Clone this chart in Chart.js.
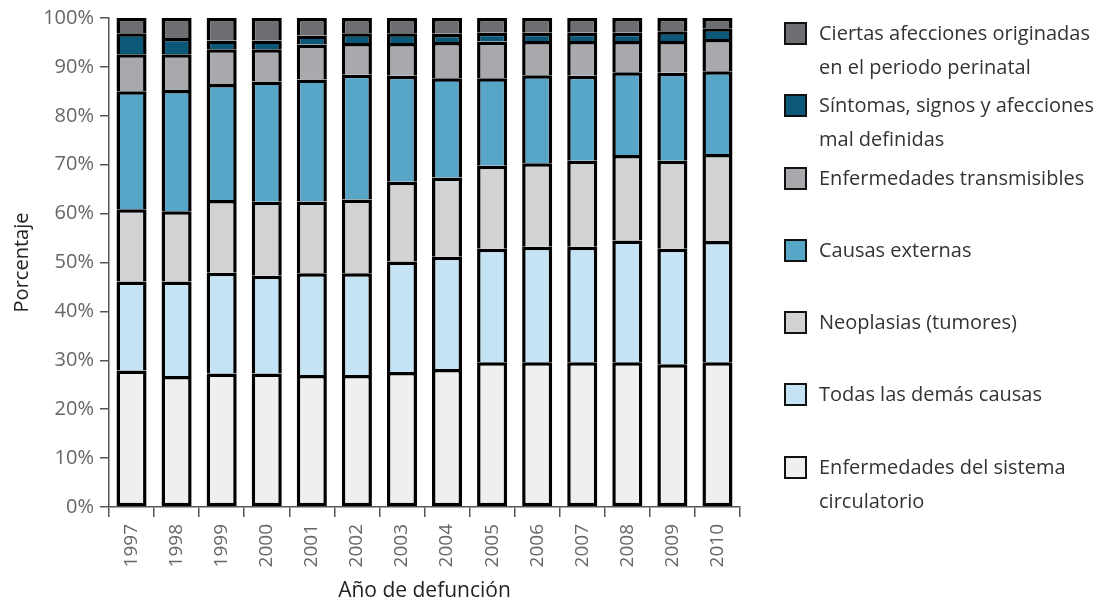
<!DOCTYPE html>
<html>
<head>
<meta charset="utf-8">
<script src="https://cdn.jsdelivr.net/npm/chart.js@4.4.0/dist/chart.umd.min.js"></script>
<style>
  body { margin: 0; background: #fff; font-family: "Open Sans", sans-serif; }
  #wrap { position: relative; width: 1106px; height: 605px; }
  #legend { position: absolute; left: 784px; top: 16px; }
  .item { display: flex; align-items: flex-start; height: 72.3px; }
  .box { width: 19px; height: 19px; border: 2px solid #111; margin-top: 6px; margin-right: 12px; flex: none; }
  .txt { font-size: 20px; line-height: 34px; color: #333; white-space: pre-line; }
</style>
</head>
<body>
<div id="wrap">
  <canvas id="myChart" width="1106" height="605"></canvas>
  <div id="legend"></div>
</div>
<script>
const years = ["1997", "1998", "1999", "2000", "2001", "2002", "2003",
  "2004", "2005", "2006", "2007", "2008", "2009", "2010"];

// percentages, bottom to top of each bar
const circulatorio = [27.9, 26.8, 27.3, 27.3, 27.0, 27.0, 27.6, 28.2, 29.6, 29.6, 29.6, 29.6, 29.2, 29.6];
const demas        = [18.2, 19.3, 20.6, 20.0, 20.8, 20.8, 22.6, 23.0, 23.2, 23.6, 23.6, 24.9, 23.6, 24.8];
const neoplasias   = [14.8, 14.4, 14.9, 15.1, 14.7, 15.1, 16.3, 16.2, 17.0, 17.1, 17.6, 17.5, 18.0, 17.8];
const externas     = [24.1, 24.8, 23.7, 24.6, 24.9, 25.5, 21.7, 20.3, 17.9, 18.0, 17.4, 16.9, 18.0, 16.9];
const transmisib   = [7.6, 7.3, 7.1, 6.6, 7.2, 6.5, 6.7, 7.4, 7.5, 7.0, 7.1, 6.4, 6.5, 6.6];
const sintomas     = [4.3, 3.3, 1.8, 1.8, 1.8, 2.0, 2.0, 1.7, 1.8, 1.7, 1.7, 1.7, 2.0, 2.2];
const perinatal    = [3.1, 4.1, 4.6, 4.6, 3.6, 3.1, 3.1, 3.2, 3.0, 3.0, 3.0, 3.0, 2.7, 2.1];

const names = [
  "Enfermedades del sistema\ncirculatorio",
  "Todas las demás causas",
  "Neoplasias (tumores)",
  "Causas externas",
  "Enfermedades transmisibles",
  "Síntomas, signos y afecciones\nmal definidas",
  "Ciertas afecciones originadas\nen el periodo perinatal"
];
const values = [circulatorio, demas, neoplasias, externas, transmisib, sintomas, perinatal];
const colors = ["#eeefef", "#c4e3f4", "#d1d2d4", "#57a5c7", "#a7a9ac", "#0b5878", "#6d6e71"];

const datasets = values.map((v, i) => ({
  label: names[i].replace("\n", " "),
  data: v,
  backgroundColor: colors[i],
  borderColor: "#000",
  borderWidth: 3.5,
  borderSkipped: i === 0 ? false : "start",
  barPercentage: 0.667,
  categoryPercentage: 1
}));

const ctx = document.getElementById("myChart");

new Chart(ctx, {
  type: "bar",
  data: { labels: years, datasets: datasets },
  options: {
    responsive: false,
    animation: false,
    layout: { padding: { top: 18, right: 366, left: 0, bottom: 0 } },
    plugins: { legend: { display: false }, tooltip: { enabled: false } },
    scales: {
      x: {
        stacked: true,
        afterFit: (s) => { s.height = 98; },
        grid: { offset: true, drawOnChartArea: false, tickLength: 10, color: "#555", lineWidth: 1.5 },
        border: { color: "#555", width: 1.5 },
        ticks: { minRotation: 90, maxRotation: 90, color: "#666", font: { family: "Open Sans", size: 19 }, padding: 7 },
        title: { display: true, text: "Año de defunción", color: "#222",
          font: { family: "Open Sans", size: 21 }, padding: { top: 0, bottom: 1 } }
      },
      y: {
        stacked: true,
        min: 0,
        max: 100,
        afterFit: (s) => { s.width = 109; },
        grid: { drawOnChartArea: false, tickLength: 9, color: "#555", lineWidth: 1.5 },
        border: { color: "#555", width: 1.5 },
        ticks: { stepSize: 10, callback: (v) => v + "%", color: "#666",
          font: { family: "Open Sans", size: 20 }, padding: 6 },
        title: { display: true, text: "Porcentaje", color: "#222",
          font: { family: "Open Sans", size: 20 }, padding: { top: 10, bottom: 0 } }
      }
    }
  }
});

// legend, top entry is the top segment of the bars
const leg = document.getElementById("legend");
for (let i = names.length - 1; i >= 0; i--) {
  const item = document.createElement("div");
  item.className = "item";
  item.innerHTML = '<div class="box" style="background:' + colors[i] + '"></div><div class="txt"></div>';
  item.querySelector(".txt").textContent = names[i];
  leg.appendChild(item);
}
</script>
</body>
</html>
